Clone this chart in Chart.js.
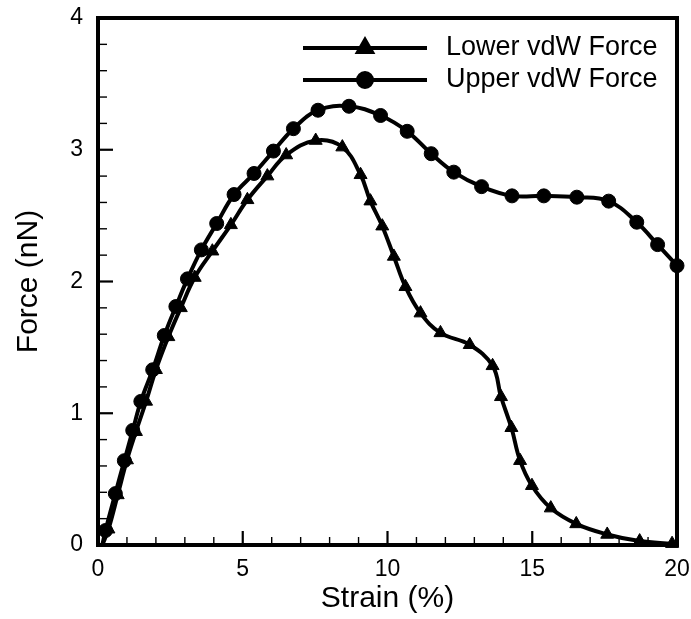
<!DOCTYPE html>
<html>
<head>
<meta charset="utf-8">
<script src="https://cdn.jsdelivr.net/npm/chart.js@4/dist/chart.umd.min.js"></script>
<style>
html,body{margin:0;padding:0;background:#fff;}
canvas{display:block;}
</style>
</head>
<body>
<canvas id="c" width="691" height="619"></canvas>
<script>
// ---- data ----
const seriesNames = ["Lower vdW Force", "Upper vdW Force"];

const lowerStrain = [0.15, 0.36, 0.68, 1.0, 1.31, 1.66, 2.0, 2.43, 2.86, 3.34, 3.95, 4.59, 5.16, 5.85, 6.5, 7.52, 8.44, 9.07, 9.41, 9.82, 10.22, 10.62, 11.14, 11.83, 12.84, 13.63, 13.92, 14.28, 14.58, 14.99, 15.64, 16.52, 17.59, 18.71, 19.83];
const lowerForce  = [0.0, 0.12, 0.38, 0.645, 0.86, 1.09, 1.33, 1.58, 1.80, 2.03, 2.23, 2.43, 2.62, 2.80, 2.96, 3.07, 3.02, 2.81, 2.61, 2.42, 2.19, 1.96, 1.76, 1.61, 1.52, 1.36, 1.125, 0.89, 0.64, 0.45, 0.28, 0.16, 0.08, 0.03, 0.01];

const upperStrain = [0.15, 0.26, 0.6, 0.91, 1.2, 1.48, 1.89, 2.29, 2.69, 3.09, 3.57, 4.1, 4.7, 5.39, 6.06, 6.75, 7.6, 8.67, 9.76, 10.68, 11.51, 12.29, 13.25, 14.3, 15.4, 16.54, 17.64, 18.61, 19.33, 20.0];
const upperForce  = [0.0, 0.11, 0.39, 0.64, 0.87, 1.09, 1.33, 1.59, 1.81, 2.02, 2.24, 2.44, 2.66, 2.82, 2.99, 3.16, 3.30, 3.33, 3.26, 3.14, 2.97, 2.83, 2.72, 2.65, 2.65, 2.64, 2.61, 2.45, 2.28, 2.12];

const xTicks = [0, 5, 10, 15, 20];
const yTicks = [0, 1, 2, 3, 4];
const xTitle = "Strain (%)";
const yTitle = "Force (nN)";

// ---- build ----
function toPoints(xs, ys){ return xs.map((x,i)=>({x:x, y:ys[i]})); }
function radii(n, r){ return Array.from({length:n}, (_,i)=> i===0 ? 0 : r); }

const FONT = "'Liberation Sans', Arial, Helvetica, sans-serif";

const inwardTicks = {
  id: 'inwardTicks',
  beforeDatasetsDraw(chart){
    const {ctx, chartArea:a, scales:{x, y}} = chart;
    ctx.save();
    ctx.strokeStyle = '#000';
    for (let v = x.min; v <= x.max + 1e-9; v += 1) {
      const px = x.getPixelForValue(v);
      const major = Math.abs(v % 5) < 1e-9;
      const len = major ? 14 : 8;
      ctx.lineWidth = major ? 2.2 : 1.4;
      ctx.beginPath(); ctx.moveTo(px, a.bottom); ctx.lineTo(px, a.bottom - len); ctx.stroke();
    }
    for (let k = 0; k <= Math.round((y.max - y.min) / 0.2); k++) {
      const v = y.min + k * 0.2;
      const py = y.getPixelForValue(v);
      const major = k % 5 === 0;
      const len = major ? 15 : 9;
      ctx.lineWidth = major ? 2.2 : 1.4;
      ctx.beginPath(); ctx.moveTo(a.left, py); ctx.lineTo(a.left + len, py); ctx.stroke();
    }
    ctx.restore();
  },
  afterDatasetsDraw(chart){
    const {ctx, chartArea:a} = chart;
    ctx.save();
    ctx.strokeStyle = '#000';
    ctx.lineWidth = 4;
    ctx.strokeRect(a.left, a.top, a.right - a.left, a.bottom - a.top);
    ctx.restore();
  }
};

const customLegend = {
  id: 'customLegend',
  afterDraw(chart){
    const {ctx, chartArea:a} = chart;
    ctx.save();
    chart.data.datasets.forEach((ds, i) => {
      const yy = a.top + 30 + i * 32;
      const x0 = a.right - 374, x1 = a.right - 250;
      ctx.strokeStyle = '#000';
      ctx.lineWidth = 4;
      ctx.beginPath(); ctx.moveTo(x0, yy); ctx.lineTo(x1, yy); ctx.stroke();
      const mx = (x0 + x1) / 2;
      ctx.fillStyle = '#000';
      Chart.helpers.drawPoint(ctx, {pointStyle: ds.pointStyle, radius: ds.legendRadius, borderWidth: 1}, mx, yy);
      ctx.fill();
      ctx.font = "27px " + FONT;
      ctx.textBaseline = 'middle';
      ctx.textAlign = 'left';
      ctx.fillText(ds.label, a.right - 231, yy);
    });
    ctx.restore();
  }
};

function fixPad(s){ s.paddingTop = 0; s.paddingBottom = 0; s.paddingLeft = 0; s.paddingRight = 0; }

new Chart(document.getElementById('c'), {
  type: 'line',
  data: {
    datasets: [
      {
        label: seriesNames[0],
        data: toPoints(lowerStrain, lowerForce),
        borderColor: '#000', backgroundColor: '#000',
        borderWidth: 4, tension: 0.4,
        pointStyle: 'triangle', pointRadius: radii(lowerStrain.length, 7.5), legendRadius: 8,
        pointBorderWidth: 1, pointBackgroundColor: '#000', pointBorderColor: '#000'
      },
      {
        label: seriesNames[1],
        data: toPoints(upperStrain, upperForce),
        borderColor: '#000', backgroundColor: '#000',
        borderWidth: 4, tension: 0.4,
        pointStyle: 'circle', pointRadius: radii(upperStrain.length, 7), legendRadius: 7,
        pointBorderWidth: 1, pointBackgroundColor: '#000', pointBorderColor: '#000'
      }
    ]
  },
  options: {
    responsive: false,
    animation: false,
    devicePixelRatio: 1,
    clip: false,
    layout: { padding: { top: 18, right: 14, left: 0, bottom: 0 } },
    plugins: { legend: { display: false }, tooltip: { enabled: false } },
    scales: {
      x: {
        type: 'linear', min: 0, max: 20,
        grid: { display: false, drawTicks: false },
        border: { display: false },
        afterBuildTicks: s => { s.ticks = xTicks.map(v => ({value: v})); },
        ticks: { color: '#000', font: { family: FONT, size: 23 }, padding: 11, maxRotation: 0 },
        title: { display: true, text: xTitle, color: '#000', font: { family: FONT, size: 30 }, padding: { top: 0, bottom: 2 } },
        afterFit: s => { s.height = 74; fixPad(s); }
      },
      y: {
        type: 'linear', min: 0, max: 4,
        grid: { display: false, drawTicks: false },
        border: { display: false },
        afterBuildTicks: s => { s.ticks = yTicks.map(v => ({value: v})); },
        ticks: { color: '#000', font: { family: FONT, size: 23 }, padding: 15 },
        title: { display: true, text: yTitle, color: '#000', font: { family: FONT, size: 30 }, padding: { top: 11, bottom: 0 } },
        afterFit: s => { s.width = 98; fixPad(s); }
      }
    }
  },
  plugins: [inwardTicks, customLegend]
});
</script>
</body>
</html>
